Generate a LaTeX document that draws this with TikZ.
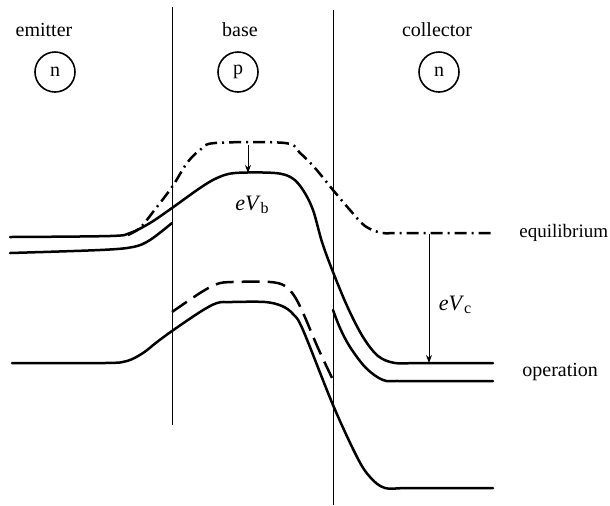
\documentclass[tikz,border=0pt]{standalone}
\usepackage{fontspec}
\setmainfont{Liberation Serif}
\usetikzlibrary{arrows.meta}
\begin{document}
\begin{tikzpicture}[x=0.5pt,y=-0.5pt,
  band/.style={line width=1.25pt, line join=round, line cap=round},
  eqline/.style={band, line cap=butt, dash pattern=on 6pt off 2.5pt on 1pt off 2.5pt},
  opdash/.style={band, line cap=butt, dash pattern=on 9pt off 4pt},
  junction/.style={line width=0.5pt},
  lab/.style={font=\fontsize{10}{12}\selectfont, inner sep=0pt},
  ring/.style={circle, draw, line width=0.8pt, minimum size=20pt, inner sep=0pt, font=\fontsize{10}{12}\selectfont},
  arr/.style={line width=0.5pt, -{Stealth[length=4pt,width=3pt]}}]
\useasboundingbox (0,0) rectangle (610,505);

% region labels
\node[lab] (lemit) at (44,30) {emitter};
\node[lab] (lbase) at (240,30) {base};
\node[lab] (lcoll) at (437,30) {collector};
\node[ring] (cemit) at (55,72) {n};
\node[ring] (cbase) at (238,72) {p};
\node[ring] (ccoll) at (439,72) {n};

% junction lines
\coordinate (j1t) at (172,7);
\coordinate (j1b) at (172,425);
\coordinate (j2t) at (333,10);
\coordinate (j2b) at (333,505);
\draw[junction] (j1t) -- (j1b);
\draw[junction] (j2t) -- (j2b);

% equilibrium (dash-dot)
\draw[eqline] plot[smooth, tension=0.55] coordinates {(128,235) (140,228) (153,212) (172,187) (187,163) (200,150) (215,143) (285,143) (300,153) (315,168) (333,190) (350,210) (365,226) (382,233) (400,233) (492,233)};

% operation: main solid curve
\draw[band] plot[smooth, tension=0.55] coordinates {(10,237) (110,236) (130,233) (150,223) (172,208) (200,188) (217,178) (235,173) (275,173) (292,178) (303,190) (313,210) (322,242) (333,272) (348,308) (363,337) (378,356) (395,363) (420,363) (493,363)};

% emitter lower edge
\draw[band] plot[smooth, tension=0.55] coordinates {(10,253) (100,250) (133,247) (150,240) (172,223)};

% collector second line
\draw[band] plot[smooth, tension=0.55] coordinates {(333,310) (340,328) (350,347) (366,368) (383,380) (400,381) (493,381)};

% base dashed
\draw[opdash] plot[smooth, tension=0.55] coordinates {(172,312) (200,293) (217,284) (232,282) (270,282) (285,286) (295,297) (304,315) (318,348) (333,380)};

% lower solid
\draw[band] plot[smooth, tension=0.55] coordinates {(12,363) (105,363) (127,361) (143,353) (157,342) (172,331) (200,312) (217,303) (232,302) (265,302) (282,306) (293,314) (303,330) (333,405) (357,457) (370,477) (385,488) (410,488) (493,488)};

% arrows
\coordinate (vbtop) at (248,145);
\coordinate (vbbot) at (248,173);
\draw[arr] (vbtop) -- (vbbot);
\coordinate (vctop) at (429,234);
\coordinate (vcbot) at (429,363);
\draw[arr] (vctop) -- (vcbot);

\node[lab, font=\fontsize{11}{13}\selectfont] (ebl) at (252,205) {\textit{eV}\raisebox{-0.35ex}{\fontsize{8}{9}\selectfont b}};
\node[lab, font=\fontsize{11}{13}\selectfont] (ecl) at (455,305) {\textit{eV}\raisebox{-0.35ex}{\fontsize{8}{9}\selectfont c}};

\node[lab, anchor=west, font=\fontsize{9.5}{11}\selectfont] (leq) at (519,233) {equilibrium};
\node[lab, anchor=west] (lop) at (522,372) {operation};
\end{tikzpicture}
\end{document}
